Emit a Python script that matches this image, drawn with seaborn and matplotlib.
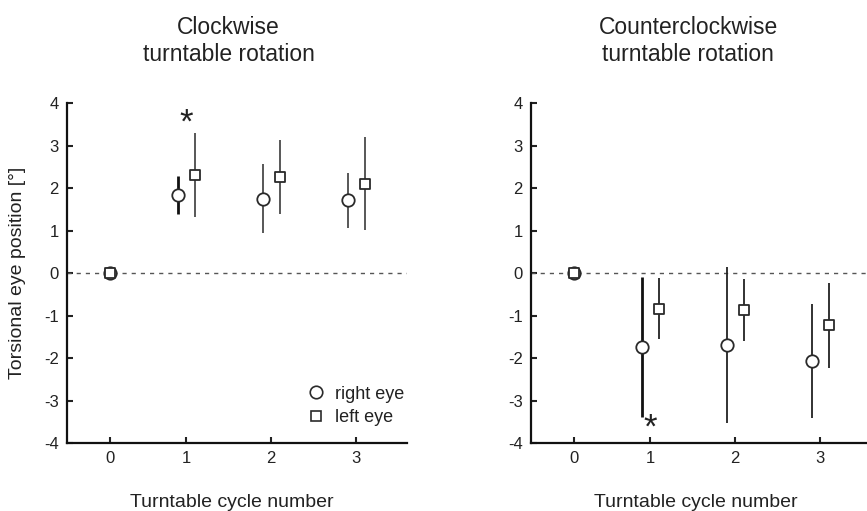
import matplotlib
matplotlib.use("Agg")
import matplotlib.pyplot as plt
from matplotlib.lines import Line2D
import numpy as np
import pandas as pd
import seaborn as sns

# Turntable cycles (tick labels) and per-eye torsional positions (mean, error half-width)
cycles = [0, 1, 2, 3]
cw_right_mean = [0.0, 1.83, 1.75, 1.71]
cw_right_err = [0.0, 0.45, 0.81, 0.64]
cw_left_mean = [0.0, 2.30, 2.26, 2.10]
cw_left_err = [0.0, 0.99, 0.87, 1.09]
ccw_right_mean = [0.0, -1.74, -1.69, -2.06]
ccw_right_err = [0.0, 1.65, 1.83, 1.34]
ccw_left_mean = [0.0, -0.84, -0.87, -1.23]
ccw_left_err = [0.0, 0.72, 0.72, 1.00]

titles = ["Clockwise\nturntable rotation", "Counterclockwise\nturntable rotation"]
eye_labels = ["right eye", "left eye"]
# cycle with a significant right-eye difference (marked with an asterisk)
sig_cycle = 1
sig_y = [3.52, -3.65]

sns.set_style("ticks")
plt.rcParams["font.family"] = ["Liberation Sans", "DejaVu Sans"]

# horizontal placement: baseline cycle sits slightly right, eyes side by side
cycle_pos = np.array([0.1, 1.0, 2.0, 3.0])
eye_shift = np.array([0.0, 0.1, 0.1, 0.1])


def build_frame(rm, re, lm, le):
    rows = []
    for i, c in enumerate(cycles):
        rows.append(dict(cycle=c, x=cycle_pos[i] - eye_shift[i], y=rm[i], err=re[i], eye=eye_labels[0]))
        rows.append(dict(cycle=c, x=cycle_pos[i] + eye_shift[i], y=lm[i], err=le[i], eye=eye_labels[1]))
    return pd.DataFrame(rows)


frames = [
    build_frame(cw_right_mean, cw_right_err, cw_left_mean, cw_left_err),
    build_frame(ccw_right_mean, ccw_right_err, ccw_left_mean, ccw_left_err),
]

W, H = 867, 511
fig = plt.figure(figsize=(W / 100, H / 100), dpi=100)
ax_l = fig.add_axes([67 / W, 1 - 443 / H, 340 / W, 340 / H])
ax_r = fig.add_axes([531 / W, 1 - 443 / H, 340 / W, 340 / H])

edge = "#2a2a2a"
for k, (ax, df) in enumerate(zip([ax_l, ax_r], frames)):
    ax.axhline(0, color="#555555", lw=1.0, ls=(0, (3.0, 3.6)), zorder=1)
    for _, r in df.iterrows():
        if r["err"] <= 0:
            continue
        bold = (r["cycle"] == sig_cycle) and (r["eye"] == eye_labels[0])
        ax.vlines(r["x"], r["y"] - r["err"], r["y"] + r["err"],
                  color="#111111" if bold else ("#4a4a4a" if k == 0 else "#222222"),
                  lw=2.0 if bold else 1.3, zorder=2)
    for eye, m, ms in [(eye_labels[0], "o", 80), (eye_labels[1], "s", 58)]:
        sub = df[df["eye"] == eye]
        sns.scatterplot(x=sub["x"], y=sub["y"], marker=m, s=ms, color="white",
                        edgecolor=edge, linewidth=1.3, legend=False, ax=ax, zorder=3)
    ax.text(cycle_pos[sig_cycle], sig_y[k], "*", ha="center", va="center",
            fontsize=25, color="#222222")

    ax.set_xlim(-0.4, 3.6)
    ax.set_ylim(-4, 4)
    ax.set_xticks(cycle_pos)
    ax.set_xticklabels([str(c) for c in cycles])
    ax.set_yticks(np.arange(-4, 5, 1))
    ax.set_yticklabels([str(v) for v in range(-4, 5)])
    ax.tick_params(direction="in", length=4, width=1.5, labelsize=12,
                   colors="#222222", pad=6)
    for s in ["top", "right"]:
        ax.spines[s].set_visible(False)
    for s in ["left", "bottom"]:
        ax.spines[s].set_linewidth(1.6)
        ax.spines[s].set_color("#111111")
    ax.set_xlabel("Turntable cycle number", fontsize=14, color="#222222")
    ax.xaxis.set_label_coords(0.484, -0.15)
    ax.set_ylabel("")
    ax.set_title(titles[k], fontsize=16.5, color="#222222",
                 x=0.475 if k == 0 else 0.463, y=1.10)

ax_l.set_ylabel("Torsional eye position [°]", fontsize=14, color="#222222")
ax_l.yaxis.set_label_coords(-0.12, 0.5)

handles = [
    Line2D([], [], ls="none", marker="o", ms=9, mfc="white", mec=edge, mew=1.2),
    Line2D([], [], ls="none", marker="s", ms=7, mfc="white", mec=edge, mew=1.2),
]
ax_l.legend(handles, eye_labels, loc="lower left", bbox_to_anchor=(0.705, 0.05),
            frameon=False, fontsize=13, handlelength=1.0, handletextpad=0.55,
            borderpad=0, borderaxespad=0, labelspacing=0.35, labelcolor="#222222")

fig.savefig("out.png", dpi=100)
